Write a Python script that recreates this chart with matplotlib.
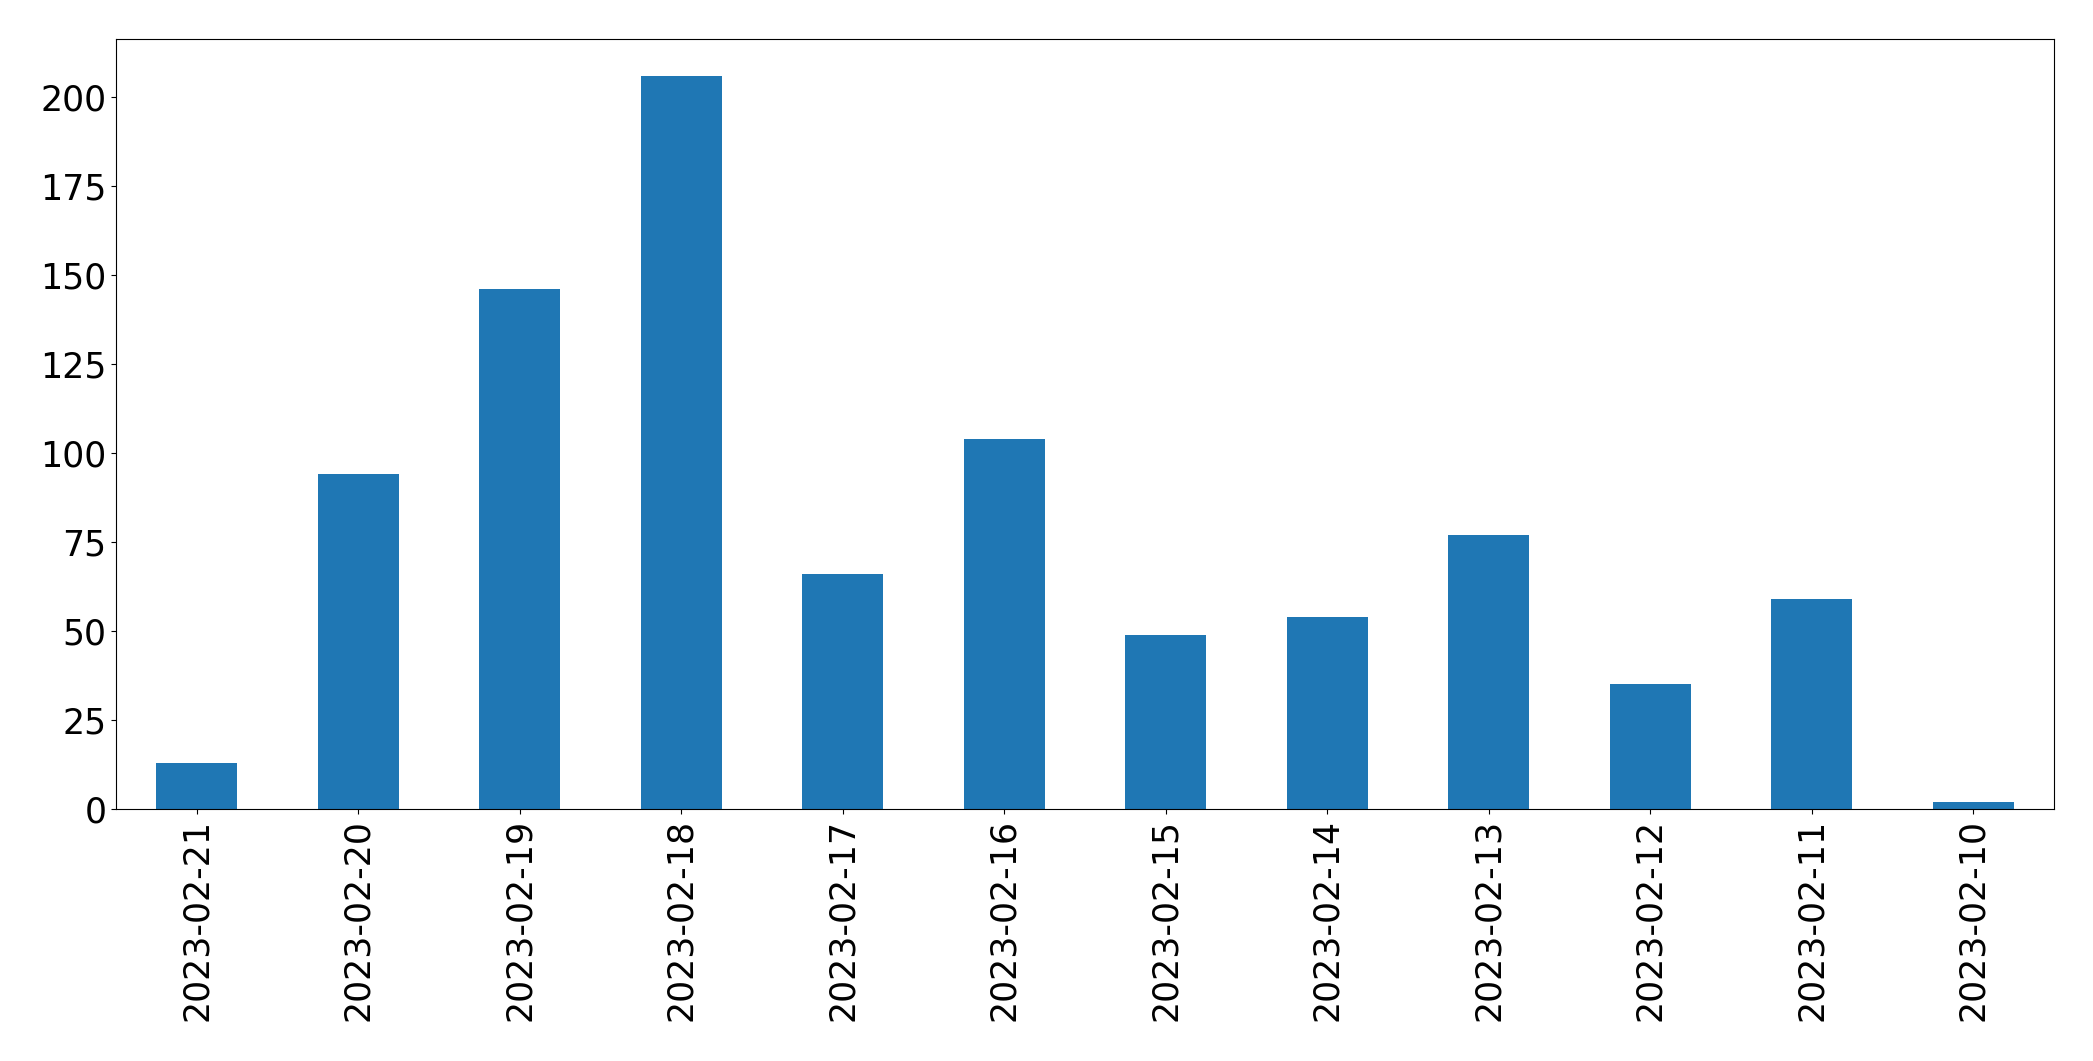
import matplotlib
matplotlib.use("Agg")
import matplotlib.pyplot as plt
import pandas as pd

dates = ["2023-02-21", "2023-02-20", "2023-02-19", "2023-02-18", "2023-02-17",
         "2023-02-16", "2023-02-15", "2023-02-14", "2023-02-13", "2023-02-12",
         "2023-02-11", "2023-02-10"]
counts = [13, 94, 146, 206, 66, 104, 49, 54, 77, 35, 59, 2]

s = pd.Series(counts, index=dates)

fig = plt.figure(figsize=(20.93, 10.61), dpi=100)
ax = fig.add_axes([116 / 2093, 1 - 809 / 1061, (2054 - 116) / 2093, (809 - 39) / 1061])
s.plot.bar(ax=ax, color="#1f77b4", width=0.5)
ax.tick_params(axis="both", labelsize=25)
ax.set_xlabel("")
fig.savefig("out.png", dpi=100)
